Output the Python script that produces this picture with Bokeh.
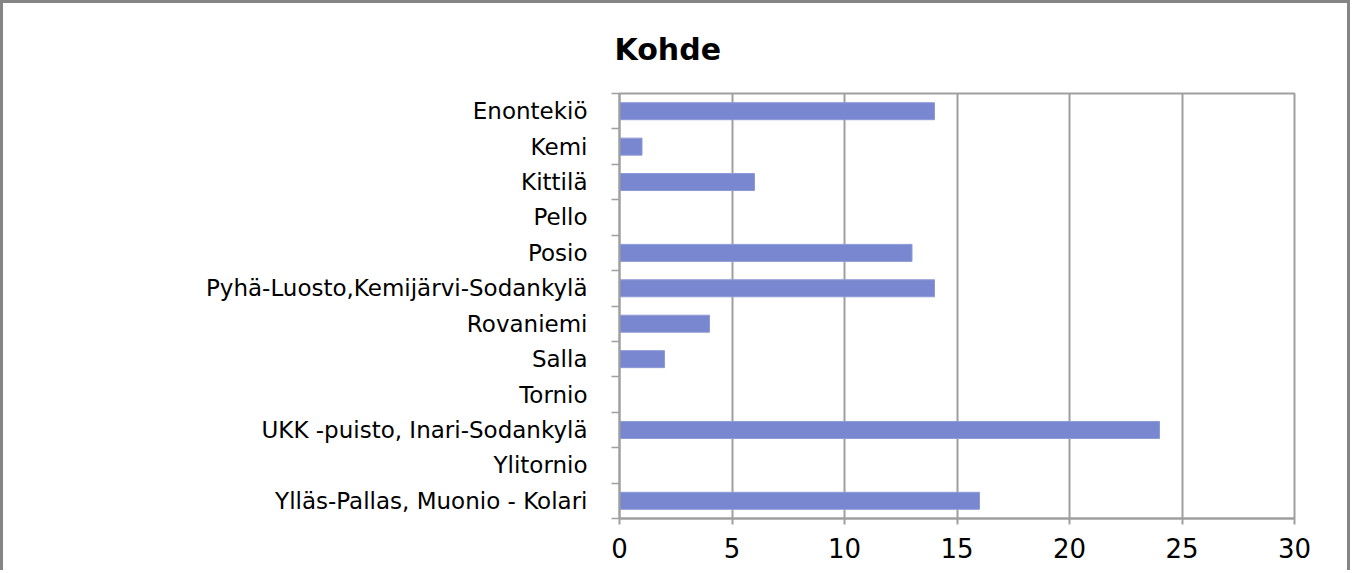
from bokeh.plotting import figure
from bokeh.models import Range1d, FixedTicker, Title
from bokeh.embed import file_html
from bokeh.resources import INLINE

categories = ["Enontekiö", "Kemi", "Kittilä", "Pello", "Posio",
              "Pyhä-Luosto,Kemijärvi-Sodankylä", "Rovaniemi", "Salla", "Tornio",
              "UKK -puisto, Inari-Sodankylä", "Ylitornio", "Ylläs-Pallas, Muonio - Kolari"]
values = [14, 1, 6, 0, 13, 14, 4, 2, 0, 24, 0, 16]
x_ticks = [0, 5, 10, 15, 20, 25, 30]
title_text = "Kohde"

n = len(categories)
centers = [i + 0.5 for i in range(n)]
bounds = [float(i) for i in range(n + 1)]

FONT = "DejaVu Sans"
GRAY = "#9f9f9f"

p = figure(width=1350, height=570, output_backend="svg", toolbar_location=None,
           x_range=Range1d(0, 30), y_range=Range1d(n, 0),
           y_axis_location="left", min_border_left=616, min_border_right=59,
           min_border_top=90, min_border_bottom=55, title=None)
p.styles = {"border-top": "3px solid #858585", "border-left": "3px solid #858585",
            "border-right": "3px solid #858585"}

t = Title(text=title_text, align="left", offset=-5, standoff=53,
          text_font=FONT, text_font_size="30px", text_font_style="bold", text_color="black")
p.add_layout(t, "above")

p.hbar(y=centers, left=0, right=values, height=0.48, fill_color="#7887cf",
       line_color="#8d9ad6", line_width=1)

# x axis
p.xaxis.ticker = FixedTicker(ticks=x_ticks)
p.xaxis.axis_line_color = GRAY
p.xaxis.axis_line_width = 2
p.xaxis.major_tick_line_color = GRAY
p.xaxis.major_tick_line_width = 2
p.xaxis.major_tick_out = 6
p.xaxis.major_tick_in = 0
p.xaxis.minor_tick_line_color = None
p.xaxis.major_label_standoff = 13
p.xaxis.major_label_text_font = FONT
p.xaxis.major_label_text_font_size = "26px"
p.xaxis.major_label_text_color = "black"

# y axis
p.yaxis.ticker = FixedTicker(ticks=centers, minor_ticks=bounds)
p.yaxis.major_label_overrides = {c: name for c, name in zip(centers, categories)}
p.yaxis.axis_line_color = GRAY
p.yaxis.axis_line_width = 2
p.yaxis.major_tick_line_color = None
p.yaxis.major_tick_out = 0
p.yaxis.major_tick_in = 0
p.yaxis.minor_tick_line_color = GRAY
p.yaxis.minor_tick_line_width = 1.5
p.yaxis.minor_tick_out = 8
p.yaxis.minor_tick_in = 0
p.yaxis.major_label_standoff = 24
p.yaxis.major_label_text_font = FONT
p.yaxis.major_label_text_font_size = "23px"
p.yaxis.major_label_text_color = "black"

p.xgrid.ticker = FixedTicker(ticks=x_ticks)
p.xgrid.grid_line_color = GRAY
p.xgrid.grid_line_width = 2
p.ygrid.grid_line_color = None

p.outline_line_color = GRAY
p.outline_line_width = 2
p.background_fill_color = "white"
p.border_fill_color = "white"

open("out.html", "w").write(file_html(p, INLINE))
